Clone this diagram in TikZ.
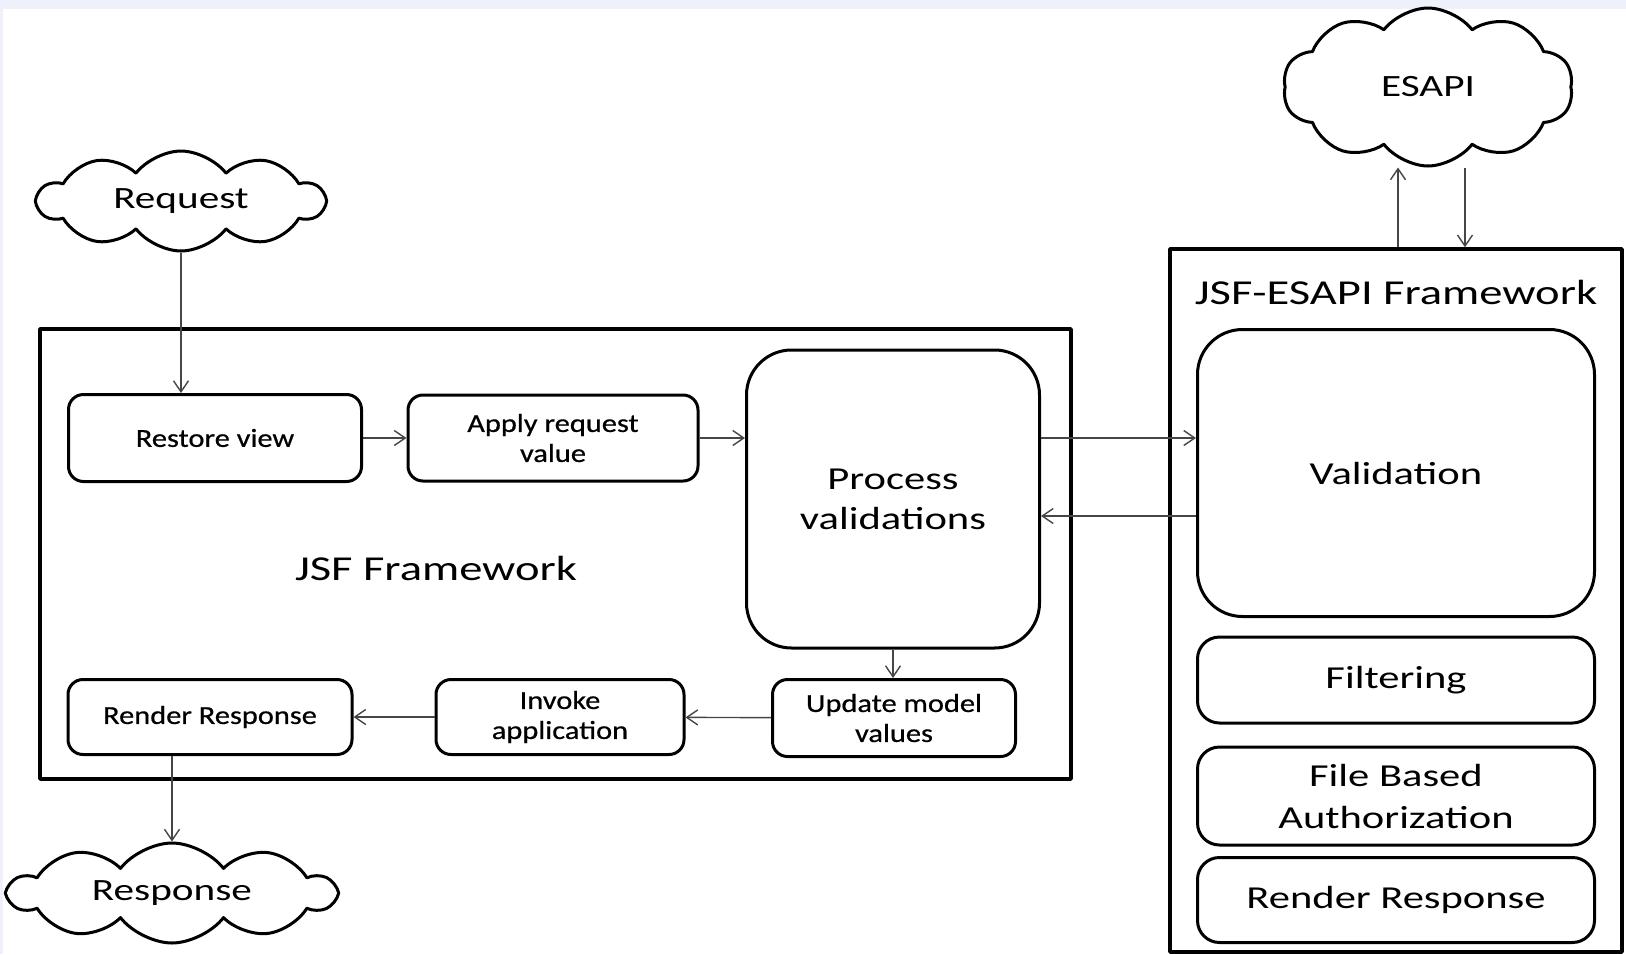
\documentclass[tikz,border=0pt]{standalone}
\usepackage{fontspec}
\setmainfont{Carlito}
\newfontfamily\labelfont[FakeStretch=1.33]{Carlito}
\newfontfamily\stepfont[FakeStretch=1.17,FakeBold=0.6]{Carlito}
\usetikzlibrary{shapes.symbols,arrows.meta}

\begin{document}
\begin{tikzpicture}
		[x=1pt,y=-1pt,line join=round,
		%Styles
		phase/.style={draw,line width=3pt,rounded corners=15pt,inner sep=0pt,align=center,font=\stepfont\fontsize{26}{30}\selectfont},
		stage/.style={draw,line width=3pt,rounded corners=45pt,inner sep=0pt,align=center,font=\labelfont\fontsize{32}{40}\selectfont},
		part/.style={draw,line width=3pt,rounded corners=22pt,inner sep=0pt,align=center,minimum width=397pt,font=\labelfont\fontsize{32}{42}\selectfont},
		frame/.style={draw,line width=3.5pt,inner sep=0pt},
		caption/.style={inner sep=0pt,font=\labelfont\fontsize{35}{42}\selectfont},
		puff/.style={cloud,draw,line width=3pt,cloud puffs=10,cloud puff arc=105,cloud ignores aspect,inner sep=0pt,font=\labelfont\fontsize{31}{38}\selectfont},
		flow/.style={-{Straight Barb[length=11pt,width=15pt]},line width=1.4pt,draw=arrowcolor}
		]
		
		%Colors
		\definecolor{bgcolor}{RGB}{238,240,252}
		\definecolor{arrowcolor}{RGB}{70,70,70}
		
		%Background
		\useasboundingbox (0,0) rectangle (1626,954);
		\fill[bgcolor] (0,0) rectangle (1626,954);
		\fill[white] (3,9) rectangle (1626,954);
		
		%Frames
		\node[frame,minimum width=1031pt,minimum height=450pt] (jsf) at (555.5,554) {};
		\node[caption] (jsflabel) at (436,568) {JSF Framework};
		\node[frame,minimum width=452pt,minimum height=703pt] (esapibox) at (1396,600.5) {};
		\node[caption] (esapilabel) at (1396,292) {JSF-ESAPI Framework};
		
		%Clouds
		\node[puff,minimum width=286pt,minimum height=100pt] (request) at (181,201) {Request};
		\node[puff,minimum width=325pt,minimum height=100pt] (response) at (172,893) {Response};
		\node[puff,minimum width=290pt,minimum height=158pt] (esapi) at (1428,87) {ESAPI};
		
		%JSF phases
		\node[phase,minimum width=293pt,minimum height=87pt] (restore) at (215,438) {Restore view};
		\node[phase,minimum width=290pt,minimum height=86pt] (apply) at (553,438) {Apply request\\value};
		\node[stage,minimum width=293pt,minimum height=298pt] (process) at (893,499) {Process\\validations};
		\node[phase,minimum width=243pt,minimum height=77pt] (update) at (894,718) {Update model\\values};
		\node[phase,minimum width=248pt,minimum height=75pt] (invoke) at (560,717) {Invoke\\application};
		\node[phase,minimum width=284pt,minimum height=75pt] (render) at (210,717) {Render Response};
		
		%ESAPI parts
		\node[stage,minimum width=397pt,minimum height=287pt] (validation) at (1396,473) {Validation};
		\node[part,minimum height=86pt] (filtering) at (1396,680) {Filtering};
		\node[part,minimum height=98pt] (fileauth) at (1396,796) {File Based\\Authorization};
		\node[part,minimum height=85pt] (render2) at (1396,900) {Render Response};
		
		%Connectors
		\draw[flow] (request.south) -- (request.south |- restore.north);
		\draw[flow] (restore) -- (apply);
		\draw[flow] (apply.east) -- (apply.east -| process.west);
		\draw[flow] ([yshift=61pt]process.east) -- ([yshift=61pt]process.east -| validation.west);
		\draw[flow] ([yshift=-17pt]process.east -| validation.west) -- ([yshift=-17pt]process.east);
		\draw[flow] (process.south) -- (process.south |- update.north);
		\draw[flow] (update) -- (invoke);
		\draw[flow] (invoke) -- (render);
		\draw[flow] (render.south -| response.north) -- (response.north);
		\draw[flow] ([xshift=2pt]esapibox.north) -- ([xshift=2pt]esapibox.north |- esapi.south);
		\draw[flow] ([xshift=69pt]esapibox.north |- esapi.south) -- ([xshift=69pt]esapibox.north);
	\end{tikzpicture}
\end{document}
